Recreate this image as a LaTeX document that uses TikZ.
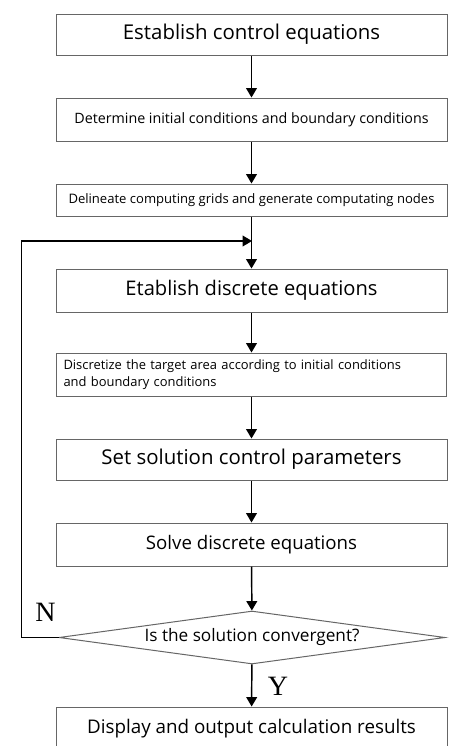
\documentclass[tikz,border=0pt]{standalone}
\usepackage{fontspec}
\setmainfont{Open Sans}
\newfontfamily\serifNY{Liberation Serif}
\usetikzlibrary{arrows.meta,shapes.geometric}
\begin{document}
\begin{tikzpicture}[x=0.75pt,y=-0.75pt,
  box/.style={draw=black!60, line width=0.75pt, minimum width=293.25pt, inner sep=0pt, align=center},
  arr/.style={draw=black, line width=1.1pt, -{Triangle[width=8pt,length=7pt]}},
  lbl/.style={font=\serifNY\fontsize{21}{21}\selectfont, inner sep=0pt}]
\useasboundingbox (0,0) rectangle (451,746);
\clip (0,0) rectangle (451,746);
\fill[white] (0,0) rectangle (451,746);
\node[box, minimum height=30.75pt, font=\fontsize{15.3}{17}\selectfont] (b1) at (251.5,34.5) {Establish control equations};
\node[box, minimum height=32.25pt, font=\fontsize{10.7}{12}\selectfont] (b2) at (251.5,119.5) {Determine initial conditions and boundary conditions};
\node[box, minimum height=24pt, font=\fontsize{9.8}{12}\selectfont] (b3) at (251.5,200) {Delineate computing grids and generate computating nodes};
\node[box, minimum height=32.25pt, font=\fontsize{15.1}{17}\selectfont] (b4) at (251.5,290.5) {Etablish discrete equations};
\node[box, minimum height=32.25pt, font=\fontsize{9.7}{12.75}\selectfont, align=left, text width=282pt, inner xsep=5.6pt, minimum width=0pt] (b5) at (251.5,374.5) {Discretize the target area according to initial conditions\\and boundary conditions};
\node[box, minimum height=30.75pt, font=\fontsize{15.3}{17}\selectfont] (b6) at (251.5,459.5) {Set solution control parameters};
\node[box, minimum height=32.25pt, font=\fontsize{14}{16}\selectfont] (b7) at (251.5,544.5) {Solve discrete equations};
\node[draw=black!60, line width=0.75pt, shape=diamond, inner sep=0pt, aspect=7.3, minimum width=289.5pt, minimum height=39.75pt, font=\fontsize{12.9}{14}\selectfont] (d) at (252,637.5) {Is the solution convergent?};
\node[box, minimum height=32.25pt, font=\fontsize{14.1}{16}\selectfont] (b8) at (251.5,728.5) {Display and output calculation results};
\coordinate (j) at (252,241);
\coordinate (lc) at (21.5,241);
\draw[arr] (b1) -- (b2);
\draw[arr] (b2) -- (b3);
\draw[arr] (b3) -- (b4);
\draw[arr] (b4) -- (b5);
\draw[arr] (b5) -- (b6);
\draw[arr] (b6) -- (b7);
\draw[arr] (b7) -- (d);
\draw[arr] (d) -- (b8);
\draw[arr] (d.west) -| (lc) -- (j);
\node[lbl] (nl) at (45.5,612) {N};
\node[lbl] (yl) at (278,686) {Y};
\end{tikzpicture}
\end{document}
